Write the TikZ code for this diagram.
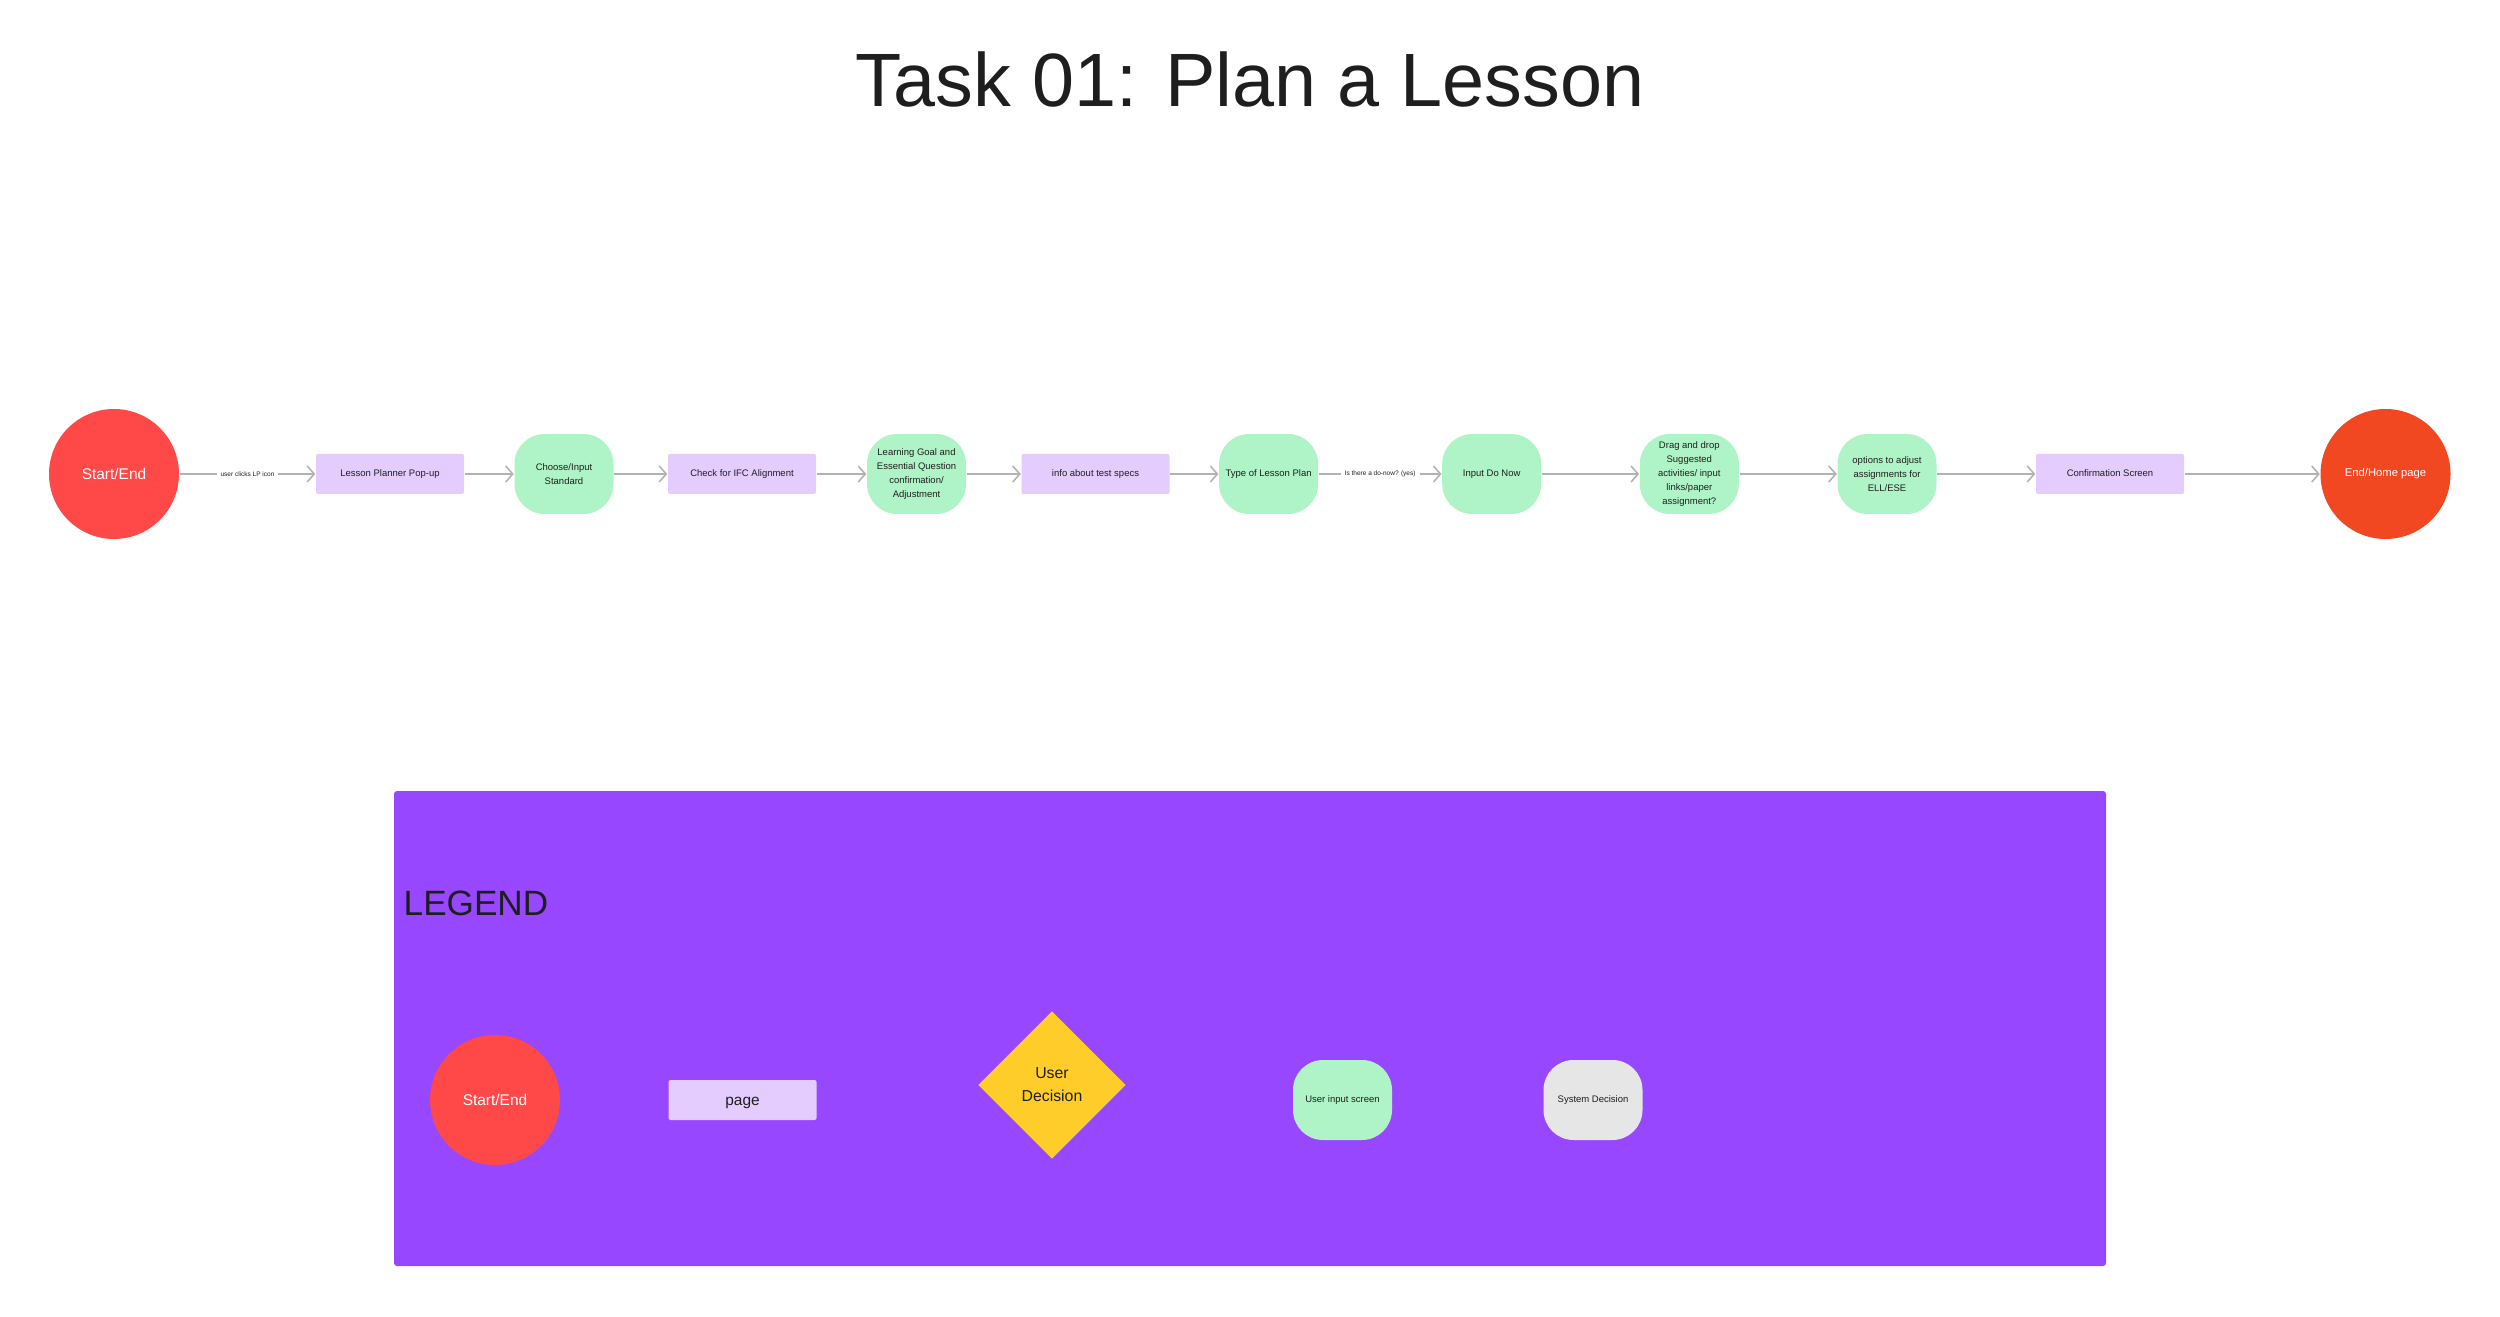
\documentclass[tikz,border=0pt]{standalone}
\usepackage{fontspec}
\setmainfont{Liberation Sans}
\usepackage{tikz}
\usetikzlibrary{shapes.geometric, arrows.meta, positioning}

\definecolor{startrot}{HTML}{FF4848}
\definecolor{endrot}{HTML}{F24822}
\definecolor{seitefill}{HTML}{E4CCFF}
\definecolor{eingabefill}{HTML}{AFF4C6}
\definecolor{systemgrau}{HTML}{E6E6E6}
\definecolor{gelb}{HTML}{FFCD29}
\definecolor{legendlila}{HTML}{9747FF}
\definecolor{pfeilgrau}{HTML}{B3B3B3}
\definecolor{textdunkel}{HTML}{1E1E1E}

\newcommand{\knoten}{\fontsize{2.7pt}{4pt}\selectfont}

\begin{document}
\begin{tikzpicture}[
	every node/.style={inner sep=0pt, text=textdunkel},
	startend/.style={circle, minimum size=1.3cm, fill=startrot, text=white, font=\fontsize{4.4pt}{5.5pt}\selectfont},
	seite/.style={rectangle, rounded corners=0.02cm, minimum width=1.48cm, minimum height=0.4cm, fill=seitefill, text height=1.95pt, text depth=0.55pt, font=\knoten},
	eingabe/.style={rectangle, rounded corners=0.3cm, minimum width=0.99cm, minimum height=0.8cm, fill=eingabefill, align=center, font=\knoten},
	entscheidung/.style={diamond, minimum width=1.48cm, minimum height=1.48cm, fill=gelb, align=center, font=\fontsize{4.5pt}{6.5pt}\selectfont},
	pfeil/.style={draw=pfeilgrau, line width=0.45pt, -{Straight Barb[length=0.07cm, width=0.16cm]}},
	kante/.style={fill=white, inner sep=0.04cm, font=\fontsize{1.85pt}{2.2pt}\selectfont}
]
	\useasboundingbox (0,0) rectangle (25,-13.17);
	
	% Titel
	\node[font=\fontsize{21.5pt}{24pt}\selectfont] (titel) at (12.5,-0.8) {Task 01: Plan a Lesson};
	
	% Ablauf
	\node[startend] (start) at (1.14,-4.74) {Start/End};
	\node[seite] (popup) at (3.90,-4.74) {Lesson Planner Pop-up};
	\node[eingabe] (standard) at (5.64,-4.74) {Choose/Input\\Standard};
	\node[seite] (ifc) at (7.42,-4.74) {Check for IFC Alignment};
	\node[eingabe] (ziel) at (9.165,-4.74) {Learning Goal and\\Essential Question\\confirmation/\\Adjustment};
	\node[seite] (specs) at (10.955,-4.74) {info about test specs};
	\node[eingabe] (typ) at (12.686,-4.74) {Type of Lesson Plan};
	\node[eingabe] (donow) at (14.917,-4.74) {Input Do Now};
	\node[eingabe] (aktiv) at (16.893,-4.74) {Drag and drop\\Suggested\\activities/ input\\links/paper\\assignment?};
	\node[eingabe] (optionen) at (18.87,-4.74) {options to adjust\\assignments for\\ELL/ESE};
	\node[seite] (bestaetigung) at (21.10,-4.74) {Confirmation Screen};
	\node[startend, fill=endrot, font=\fontsize{3.2pt}{4pt}\selectfont] (ende) at (23.855,-4.74) {End/Home page};
	
	% Pfeile
	\draw[pfeil] (start) -- node[kante] {user clicks LP icon} (popup);
	\draw[pfeil] (typ) -- node[kante] {Is there a do-now? (yes)} (donow);
	\foreach \a/\b in {popup/standard, standard/ifc, ifc/ziel, ziel/specs, specs/typ, donow/aktiv, aktiv/optionen, optionen/bestaetigung, bestaetigung/ende}
		\draw[pfeil] (\a) -- (\b);
	
	% Legende
	\fill[legendlila, rounded corners=0.03cm] (3.94,-7.91) rectangle (21.06,-12.66);
	\node[anchor=west, font=\fontsize{10pt}{12pt}\selectfont] (legende) at (4.03,-9.03) {LEGEND};
	\node[startend] (lstart) at (4.95,-11.00) {Start/End};
	\node[seite, text height=3.2pt, text depth=0pt, font=\fontsize{4.4pt}{5pt}\selectfont] (lseite) at (7.425,-11.00) {page};
	\node[entscheidung] (lentscheidung) at (10.52,-10.85) {User\\Decision};
	\node[eingabe] (leingabe) at (13.425,-11.00) {User input screen};
	\node[eingabe, fill=systemgrau] (lsystem) at (15.93,-11.00) {System Decision};
\end{tikzpicture}
\end{document}
